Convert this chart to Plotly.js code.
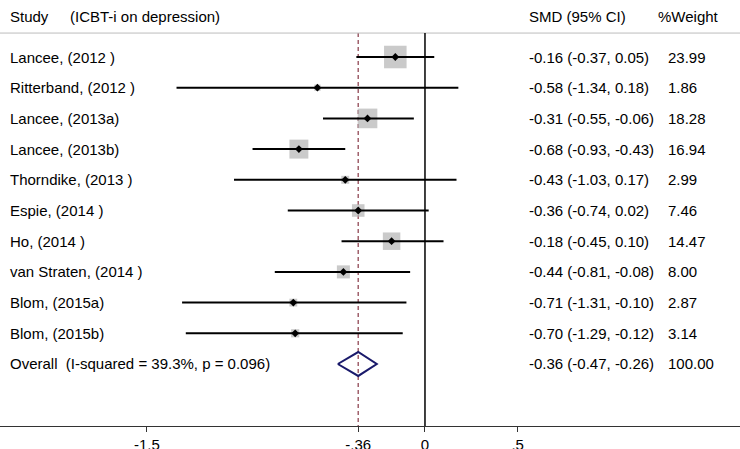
<!DOCTYPE html>
<html>
<head>
<meta charset="utf-8">
<script src="https://cdn.plot.ly/plotly-3.0.1.min.js"></script>
<style>
  html, body { margin: 0; padding: 0; background: #fff; }
  #grafico { width: 740px; height: 449px; }
</style>
</head>
<body>
<div id="grafico"></div>
<script>
// datos del forest plot (ICBT-i sobre depresión)
const estudios = ['Lancee, (2012 )', 'Ritterband, (2012 )', 'Lancee, (2013a)', 'Lancee, (2013b)',
  'Thorndike, (2013 )', 'Espie, (2014 )', 'Ho, (2014 )', 'van Straten, (2014 )', 'Blom, (2015a)', 'Blom, (2015b)'];
const smd = [-0.16, -0.58, -0.31, -0.68, -0.43, -0.36, -0.18, -0.44, -0.71, -0.70];
const icInf = [-0.37, -1.34, -0.55, -0.93, -1.03, -0.74, -0.45, -0.81, -1.31, -1.29];
const icSup = [0.05, 0.18, -0.06, -0.43, 0.17, 0.02, 0.10, -0.08, -0.10, -0.12];
const pesos = [23.99, 1.86, 18.28, 16.94, 2.99, 7.46, 14.47, 8.00, 2.87, 3.14];
const globalEst = -0.36, globalInf = -0.47, globalSup = -0.26, globalPeso = 100.00;
const globalTexto = 'Overall  (I-squared = 39.3%, p = 0.096)';
const ticksX = [-1.5, -0.36, 0, 0.5];
const ticksTexto = ['-1.5', '-.36', '0', '.5'];

const fuente = { family: 'Liberation Sans, Arial, sans-serif', size: 15, color: '#000' };
const filas = estudios.map((_, i) => i);
const filaGlobal = estudios.length;
const yCabecera = -1.33, yLinea = -0.78, yFondo = 12.02;

const fmt = v => v.toFixed(2);

const trazas = [];

// cajas grises, lado proporcional a la raíz del peso
trazas.push({
  x: smd, y: filas, mode: 'markers', type: 'scatter', hoverinfo: 'skip',
  marker: { symbol: 'square', color: '#b3b3b3', size: pesos.map(w => 4.6 * Math.sqrt(w)), line: { width: 0 } }
});

// intervalos de confianza
const xs = [], ys = [];
filas.forEach(i => { xs.push(icInf[i], icSup[i], null); ys.push(i, i, null); });
trazas.push({ x: xs, y: ys, mode: 'lines', type: 'scatter', hoverinfo: 'skip', line: { color: '#000', width: 2 } });

// punto estimado
trazas.push({
  x: smd, y: filas, mode: 'markers', type: 'scatter', hoverinfo: 'skip',
  marker: { symbol: 'diamond', color: '#000', size: 6 }
});

// diamante global
const h = 0.39;
trazas.push({
  x: [globalInf, globalEst, globalSup, globalEst, globalInf],
  y: [filaGlobal, filaGlobal - h, filaGlobal, filaGlobal + h, filaGlobal],
  mode: 'lines', type: 'scatter', fill: 'toself', fillcolor: 'rgba(255,255,255,0)', hoverinfo: 'skip',
  line: { color: '#1a1a6b', width: 2 }
});

const anot = [];
const izq = (texto, px, y) => anot.push({
  text: texto, x: px / 740, xref: 'paper', y, yref: 'y', xanchor: 'left', yanchor: 'middle',
  showarrow: false, font: fuente
});
izq('Study', 8, yCabecera);
izq('(ICBT-i on depression)', 68, yCabecera);
izq('SMD (95% CI)', 527, yCabecera);
izq('%Weight', 656, yCabecera);
filas.forEach(i => {
  izq(estudios[i], 8, i);
  izq(`${fmt(smd[i])} (${fmt(icInf[i])}, ${fmt(icSup[i])})`, 527, i);
  izq(fmt(pesos[i]), 666, i);
});
izq(globalTexto, 8, filaGlobal);
izq(`${fmt(globalEst)} (${fmt(globalInf)}, ${fmt(globalSup)})`, 527, filaGlobal);
izq(fmt(globalPeso), 666, filaGlobal);

const formas = [
  { type: 'line', xref: 'paper', x0: 0, x1: 1, yref: 'y', y0: yLinea, y1: yLinea, line: { color: '#bcbcbc', width: 1 } },
  { type: 'line', xref: 'x', x0: 0, x1: 0, yref: 'y', y0: yLinea, y1: yFondo, line: { color: '#000', width: 1.5 } },
  { type: 'line', xref: 'x', x0: globalEst, x1: globalEst, yref: 'y', y0: yLinea, y1: yFondo, layer: 'below',
    line: { color: '#a0606c', width: 1.5, dash: '4px,3px' } }
];

Plotly.newPlot('grafico', trazas, {
  width: 740, height: 449,
  margin: { l: 0, r: 0, t: 0, b: 23 },
  paper_bgcolor: '#fff', plot_bgcolor: '#fff',
  showlegend: false,
  font: fuente,
  xaxis: {
    range: [-2.292, 1.699], showgrid: false, zeroline: false,
    showline: true, linecolor: '#333', linewidth: 1.3,
    ticks: 'outside', ticklen: 5, tickcolor: '#333',
    tickvals: ticksX, ticktext: ticksTexto, tickfont: fuente
  },
  yaxis: { range: [yFondo, -1.857], visible: false, showgrid: false, zeroline: false },
  shapes: formas,
  annotations: anot
}, { displayModeBar: false, staticPlot: true });
</script>
</body>
</html>
